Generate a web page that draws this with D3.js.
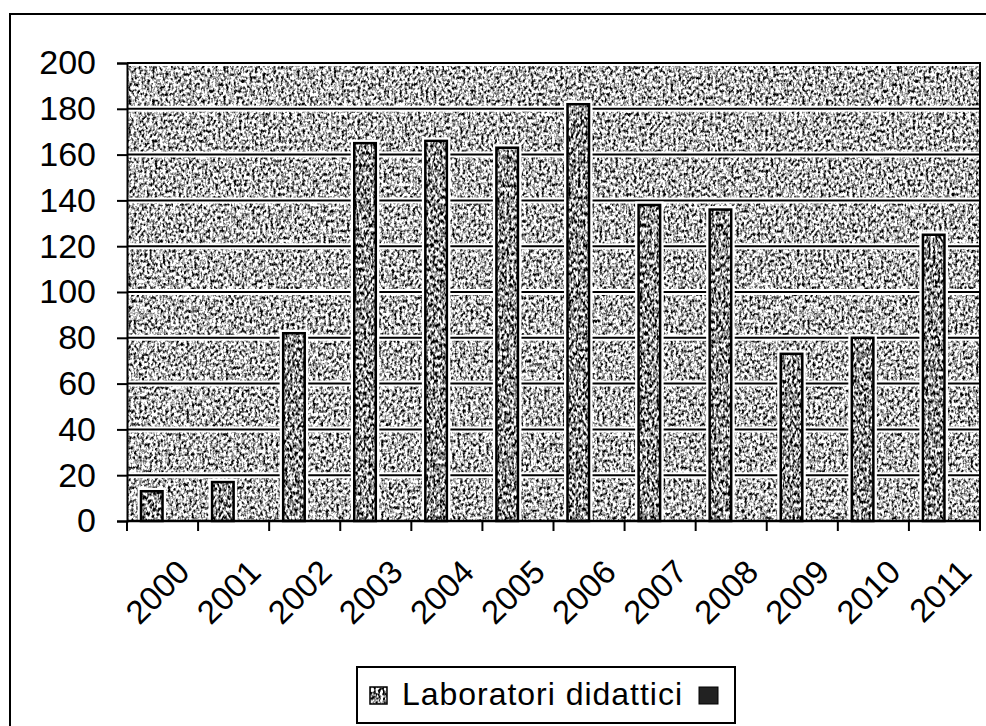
<!DOCTYPE html>
<html>
<head>
<meta charset="utf-8">
<script src="https://cdn.jsdelivr.net/npm/d3@7"></script>
<style>
  html, body { margin: 0; padding: 0; background: #fff; }
  svg { display: block; }
  text { font-family: "Liberation Sans", Arial, sans-serif; fill: #000; }
</style>
</head>
<body>
<svg id="chart" width="986" height="726"></svg>
<script>
// ---- data ----
const years = ["2000","2001","2002","2003","2004","2005","2006","2007","2008","2009","2010","2011"];
const laboratori = [13, 17, 82, 165, 166, 163, 182, 138, 136, 73, 80, 125];
const seriesNames = ["Laboratori didattici", ""];
const yTicks = [0, 20, 40, 60, 80, 100, 120, 140, 160, 180, 200];

// ---- layout ----
const W = 986, H = 726;
const plot = { left: 127, right: 980, top: 63, bottom: 521 };

const svg = d3.select("#chart");
const defs = svg.append("defs");

function makeTexture(id, fx, fy, seed, slope, intercept) {
  const f = defs.append("filter").attr("id", id)
    .attr("x", 0).attr("y", 0).attr("width", 1).attr("height", 1)
    .attr("color-interpolation-filters", "sRGB");
  f.append("feTurbulence").attr("type", "fractalNoise")
    .attr("baseFrequency", fx + " " + fy).attr("numOctaves", 2).attr("seed", seed);
  f.append("feColorMatrix").attr("type", "matrix")
    .attr("values", "1 0 0 0 0  1 0 0 0 0  1 0 0 0 0  0 0 0 0 1");
  const ct = f.append("feComponentTransfer");
  ["feFuncR", "feFuncG", "feFuncB"].forEach(fn =>
    ct.append(fn).attr("type", "linear").attr("slope", slope).attr("intercept", intercept));
}
makeTexture("texBg", 0.38, 0.3, 4, 3.0, -0.78);
makeTexture("texBar", 0.42, 0.25, 11, 3.0, -0.92);

// outer chart border
svg.append("rect")
  .attr("x", 10).attr("y", 14).attr("width", W).attr("height", H)
  .attr("fill", "none").attr("stroke", "#000").attr("stroke-width", 2);

// scales
const x = d3.scaleBand().domain(years).range([plot.left, plot.right]).paddingInner(0).paddingOuter(0);
const gapRatio = 1.3;
const barW = x.bandwidth() / (seriesNames.length + gapRatio);
const x1 = d3.scaleBand().domain(seriesNames.map((d, i) => i))
  .range([barW * gapRatio / 2, barW * gapRatio / 2 + barW * seriesNames.length]);
const y = d3.scaleLinear().domain([0, 200]).range([plot.bottom, plot.top]);

// plot background texture
svg.append("rect")
  .attr("x", plot.left).attr("y", plot.top)
  .attr("width", plot.right - plot.left).attr("height", plot.bottom - plot.top)
  .attr("fill", "#999").attr("filter", "url(#texBg)");

// gridlines
const grid = svg.append("g");
yTicks.filter(t => t > 0).forEach(t => {
  grid.append("line").attr("x1", plot.left).attr("x2", plot.right)
    .attr("y1", y(t)).attr("y2", y(t)).attr("stroke", "#fff").attr("stroke-width", 6);
  grid.append("line").attr("x1", plot.left).attr("x2", plot.right)
    .attr("y1", y(t)).attr("y2", y(t)).attr("stroke", "#000").attr("stroke-width", 2);
});

// bars
const bars = svg.append("g");
years.forEach((yr, i) => {
  const v = laboratori[i];
  const bx = x(yr) + x1(0);
  const by = y(v);
  const bh = y(0) - y(v);
  bars.append("rect").attr("x", bx).attr("y", by).attr("width", x1.bandwidth()).attr("height", bh)
    .attr("fill", "none").attr("stroke", "#fff").attr("stroke-width", 7);
  bars.append("rect").attr("x", bx).attr("y", by).attr("width", x1.bandwidth()).attr("height", bh)
    .attr("fill", "#888").attr("filter", "url(#texBar)");
  bars.append("rect").attr("x", bx).attr("y", by).attr("width", x1.bandwidth()).attr("height", bh)
    .attr("fill", "none").attr("stroke", "#000").attr("stroke-width", 2.5);
});

// plot frame (top and right)
svg.append("path")
  .attr("d", `M${plot.left},${plot.top}H${plot.right}V${plot.bottom}`)
  .attr("fill", "none").attr("stroke", "#000").attr("stroke-width", 2);

// y axis
const yAxis = d3.axisLeft(y).tickValues(yTicks).tickSize(10).tickPadding(21);
const gy = svg.append("g").attr("transform", `translate(${plot.left},0)`).call(yAxis);
gy.select(".domain").attr("stroke", "#000").attr("stroke-width", 2);
gy.selectAll(".tick line").attr("stroke", "#000").attr("stroke-width", 2);
gy.selectAll(".tick text").style("font-size", "34px").attr("font-family", "Liberation Sans, Arial, sans-serif");

// x axis: ticks at category boundaries
const gx = svg.append("g");
gx.append("line").attr("x1", plot.left).attr("x2", plot.right)
  .attr("y1", plot.bottom).attr("y2", plot.bottom).attr("stroke", "#000").attr("stroke-width", 2.5);
years.concat(["end"]).forEach((yr, i) => {
  const tx = i < years.length ? x(yr) : plot.right;
  gx.append("line").attr("x1", tx).attr("x2", tx)
    .attr("y1", plot.bottom).attr("y2", plot.bottom + 10).attr("stroke", "#000").attr("stroke-width", 2);
});
years.forEach(yr => {
  const cx = x(yr) + x.bandwidth() / 2 + 29;
  gx.append("text").text(yr)
    .attr("transform", `translate(${cx},574) rotate(-45)`)
    .attr("text-anchor", "end")
    .style("font-size", "33px");
});

// legend
const lg = svg.append("g");
lg.append("rect").attr("x", 357).attr("y", 667).attr("width", 378).attr("height", 56)
  .attr("fill", "#fff").attr("stroke", "#000").attr("stroke-width", 2);
lg.append("rect").attr("x", 370).attr("y", 687).attr("width", 17).attr("height", 17)
  .attr("fill", "#888").attr("filter", "url(#texBar)");
lg.append("rect").attr("x", 370).attr("y", 687).attr("width", 17).attr("height", 17)
  .attr("fill", "none").attr("stroke", "#000").attr("stroke-width", 1.5);
lg.append("text").text(seriesNames[0])
  .attr("x", 402).attr("y", 705)
  .attr("textLength", 280).attr("lengthAdjust", "spacing")
  .style("font-size", "32px");
lg.append("rect").attr("x", 699).attr("y", 687).attr("width", 19).attr("height", 17)
  .attr("fill", "#222").attr("stroke", "#000").attr("stroke-width", 1);
lg.append("text").text(seriesNames[1]).attr("x", 722).attr("y", 705).style("font-size", "32px");
</script>
</body>
</html>
